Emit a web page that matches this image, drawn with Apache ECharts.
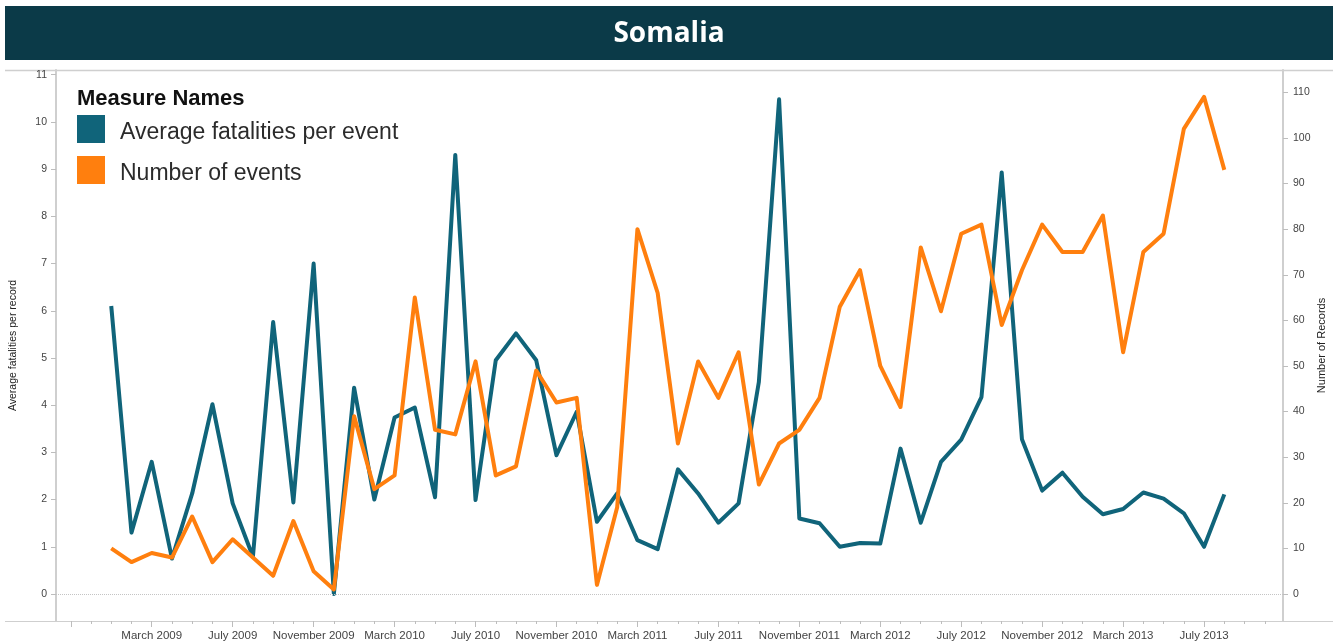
<!DOCTYPE html>
<html>
<head>
<meta charset="utf-8">
<title>Somalia</title>
<script src="https://cdn.jsdelivr.net/npm/echarts@6.0.0/dist/echarts.min.js"></script>
<style>
  html, body { margin: 0; padding: 0; background: #fff; }
  #chart { width: 1338px; height: 643px; }
</style>
</head>
<body>
<div id="chart"></div>
<script>
const monthNames = ['January', 'February', 'March', 'April', 'May', 'June', 'July',
  'August', 'September', 'October', 'November', 'December']
const firstYear = 2009 // both series start in January 2009, one point per month

// average fatalities per event (left axis)
const fatalities = [6.1, 1.3, 2.8, 0.75, 2.13, 4.02, 1.92, 0.79, 5.76, 1.94,
  7.0, 0, 4.37, 2.0, 3.74, 3.95, 2.05, 9.3, 1.99, 4.95,
  5.52, 4.95, 2.94, 3.86, 1.53, 2.13, 1.14, 0.95, 2.64, 2.13,
  1.51, 1.92, 4.49, 10.48, 1.6, 1.5, 1.0, 1.08, 1.07, 3.08,
  1.51, 2.8, 3.27, 4.17, 8.93, 3.28, 2.19, 2.57, 2.06, 1.69,
  1.8, 2.15, 2.02, 1.71, 1.0, 2.11]

// number of events / records (right axis)
const events = [10, 7, 9, 8, 17, 7, 12, 8, 4, 16,
  5, 1, 39, 23, 26, 65, 36, 35, 51, 26,
  28, 49, 42, 43, 2, 19, 80, 66, 33, 51,
  43, 53, 24, 33, 36, 43, 63, 71, 50, 41,
  76, 62, 79, 81, 59, 71, 81, 75, 75, 83,
  53, 75, 79, 102, 109, 93]

const tickLabels = ['March 2009', 'July 2009', 'November 2009', 'March 2010', 'July 2010',
  'November 2010', 'March 2011', 'July 2011', 'November 2011', 'March 2012', 'July 2012',
  'November 2012', 'March 2013', 'July 2013']
const leftTicks = [0, 1, 2, 3, 4, 5, 6, 7, 8, 9, 10, 11]
const rightTicks = [0, 10, 20, 30, 40, 50, 60, 70, 80, 90, 100, 110]

const toIndex = (label) => {
  const [m, y] = label.split(' ')
  return (Number(y) - firstYear) * 12 + monthNames.indexOf(m)
}
const toLabel = (i) => monthNames[((i % 12) + 12) % 12] + ' ' + (firstYear + Math.floor(i / 12))

const xMin = -2.73
const xMax = 57.9
const minorTicks = []
for (let i = Math.ceil(xMin); i <= Math.floor(xMax); i++) minorTicks.push(i)
const majorTicks = ['November 2008', ...tickLabels].map(toIndex)

const gray = '#cfcfcf'
const labelFont = 'Liberation Sans, Arial, sans-serif'

const chart = echarts.init(document.getElementById('chart'))

chart.setOption({
  backgroundColor: '#fff',
  animation: false,
  title: [{
    text: 'Somalia',
    left: 'center',
    top: 20,
    padding: 0,
    z: 10,
    textStyle: { color: '#fff', fontFamily: 'Open Sans', fontWeight: 'bold', fontSize: 28 }
  }, {
    text: 'Measure Names',
    left: 77,
    top: 88,
    padding: 0,
    textStyle: { color: '#111', fontFamily: labelFont, fontWeight: 'bold', fontSize: 22 }
  }],
  legend: {
    orient: 'vertical',
    left: 77,
    top: 115,
    padding: 0,
    icon: 'rect',
    itemWidth: 28,
    itemHeight: 28,
    itemGap: 12,
    formatter: (name) => `{t|${name}}`,
    textStyle: {
      rich: {
        t: { fontFamily: labelFont, fontSize: 23, color: '#2b2b2b', padding: [7, 0, 0, 10] }
      }
    },
    data: ['Average fatalities per event', 'Number of events']
  },
  graphic: [
    { type: 'rect', shape: { x: 5, y: 6, width: 1328, height: 54 }, style: { fill: '#0b3a48' }, z: 0 },
    { type: 'line', shape: { x1: 5, y1: 70.5, x2: 1333, y2: 70.5 }, style: { stroke: gray, lineWidth: 1.5 } },
    { type: 'line', shape: { x1: 5, y1: 621.5, x2: 1333, y2: 621.5 }, style: { stroke: gray, lineWidth: 1 } }
  ],
  grid: { left: 56, right: 55, top: 70, bottom: 22, outerBoundsMode: 'none' },
  xAxis: [{
    type: 'value',
    position: 'bottom',
    min: xMin,
    max: xMax,
    axisLine: { show: true, onZero: false, lineStyle: { color: gray, width: 1 } },
    axisTick: { show: true, length: 3, customValues: minorTicks, lineStyle: { color: '#bdbdbd' } },
    axisLabel: { show: false },
    splitLine: { show: false }
  }, {
    type: 'value',
    position: 'bottom',
    min: xMin,
    max: xMax,
    axisLine: { show: false, onZero: false },
    axisTick: { show: true, length: 6, customValues: majorTicks, lineStyle: { color: '#bdbdbd' } },
    axisLabel: {
      customValues: tickLabels.map(toIndex),
      formatter: (v) => toLabel(v),
      margin: 9,
      fontFamily: labelFont,
      fontSize: 11.5,
      color: '#444'
    },
    splitLine: { show: false }
  }],
  yAxis: [{
    type: 'value',
    position: 'left',
    min: -0.572,
    max: 11.1,
    name: 'Average fatalities per record',
    nameLocation: 'middle',
    nameRotate: 90,
    nameGap: 37,
    nameMoveOverlap: false,
    nameTextStyle: { fontFamily: labelFont, fontSize: 10.5, color: '#222' },
    axisLine: { show: true, onZero: false, lineStyle: { color: gray, width: 2 } },
    axisTick: { show: true, length: 5, customValues: leftTicks, lineStyle: { color: '#bdbdbd' } },
    axisLabel: { customValues: leftTicks, margin: 9, fontFamily: labelFont, fontSize: 10.5, color: '#444' },
    splitLine: { show: false }
  }, {
    type: 'value',
    position: 'right',
    min: -5.92,
    max: 114.9,
    name: 'Number of Records',
    nameLocation: 'middle',
    nameRotate: 90,
    nameGap: 33,
    nameMoveOverlap: false,
    nameTextStyle: { fontFamily: labelFont, fontSize: 11, color: '#222' },
    axisLine: { show: true, onZero: false, lineStyle: { color: gray, width: 2 } },
    axisTick: { show: true, length: 5, customValues: rightTicks, lineStyle: { color: '#bdbdbd' } },
    axisLabel: { customValues: rightTicks, margin: 10, fontFamily: labelFont, fontSize: 10.5, color: '#444' },
    splitLine: { show: false }
  }],
  series: [{
    name: 'Average fatalities per event',
    type: 'line',
    xAxisIndex: 0,
    yAxisIndex: 0,
    data: fatalities.map((v, i) => [i, v]),
    showSymbol: false,
    color: '#10647a',
    lineStyle: { width: 4, join: 'round' },
    markLine: {
      silent: true,
      symbol: 'none',
      label: { show: false },
      lineStyle: { color: '#c4c4c4', type: 'dotted', width: 1 },
      data: [{ yAxis: 0 }]
    }
  }, {
    name: 'Number of events',
    type: 'line',
    xAxisIndex: 0,
    yAxisIndex: 1,
    data: events.map((v, i) => [i, v]),
    showSymbol: false,
    color: '#ff7f0e',
    lineStyle: { width: 4, join: 'round' }
  }]
})
</script>
</body>
</html>
